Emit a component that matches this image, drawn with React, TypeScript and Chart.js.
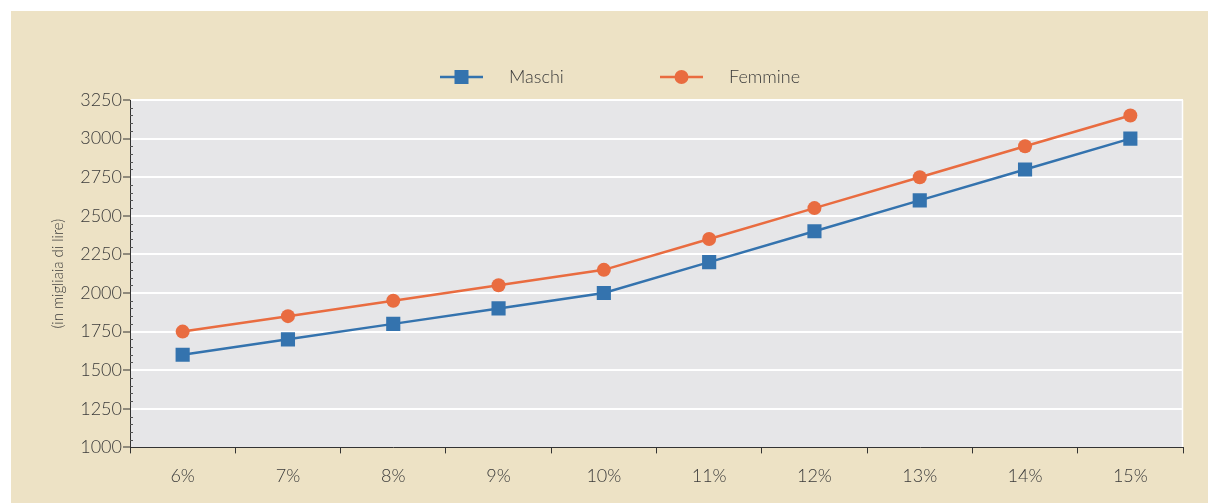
import React, { useEffect, useRef } from "react";
import { Chart, registerables } from "chart.js";

Chart.register(...registerables);

const categories = ["6%", "7%", "8%", "9%", "10%", "11%", "12%", "13%", "14%", "15%"];
const maschi = [1600, 1700, 1800, 1900, 2000, 2200, 2400, 2600, 2800, 3000];
const femmine = [1750, 1850, 1950, 2050, 2150, 2350, 2550, 2750, 2950, 3150];
const seriesNames = ["Maschi", "Femmine"];
const yTitle = "(in migliaia di lire)";

const BLUE = "#3473ae";
const ORANGE = "#e96c40";
const TEXT = "#3a3a3a";
const FONT = "Lato, 'Open Sans', sans-serif";

export default function App() {
  const ref = useRef<HTMLCanvasElement | null>(null);

  useEffect(() => {
    document.body.style.margin = "0";
    const canvas = ref.current;
    if (!canvas) return;

    const bgPlugin = {
      id: "plotBg",
      beforeDraw(chart: any) {
        const { ctx, chartArea } = chart;
        ctx.save();
        ctx.fillStyle = "#e6e6e8";
        ctx.fillRect(chartArea.left, chartArea.top, chartArea.right - chartArea.left, chartArea.bottom - chartArea.top);
        ctx.strokeStyle = "#ffffff";
        ctx.lineWidth = 1.5;
        ctx.beginPath();
        ctx.moveTo(chartArea.right - 0.5, chartArea.top);
        ctx.lineTo(chartArea.right - 0.5, chartArea.bottom);
        ctx.stroke();
        ctx.restore();
      },
      afterDraw(chart: any) {
        const { ctx, chartArea } = chart;
        const y = chart.scales.y;
        ctx.save();
        ctx.strokeStyle = "#555";
        ctx.lineWidth = 1;
        for (let v = y.min; v <= y.max; v += 50) {
          if (v % 250 === 0) continue;
          const py = Math.round(y.getPixelForValue(v)) + 0.5;
          ctx.beginPath();
          ctx.moveTo(chartArea.left, py);
          ctx.lineTo(chartArea.left + 3, py);
          ctx.stroke();
        }
        const items = [
          { name: seriesNames[0], color: BLUE, style: "rect", x: 429 },
          { name: seriesNames[1], color: ORANGE, style: "circle", x: 649 },
        ];
        const ly = 66;
        items.forEach((it) => {
          ctx.strokeStyle = it.color;
          ctx.fillStyle = it.color;
          ctx.lineWidth = 2.5;
          ctx.beginPath();
          ctx.moveTo(it.x, ly);
          ctx.lineTo(it.x + 43, ly);
          ctx.stroke();
          const cx = it.x + 21.5;
          if (it.style === "rect") {
            ctx.fillRect(cx - 7, ly - 7, 14, 14);
          } else {
            ctx.beginPath();
            ctx.arc(cx, ly, 7, 0, Math.PI * 2);
            ctx.fill();
          }
          ctx.fillStyle = TEXT;
          ctx.font = `300 18px ${FONT}`;
          ctx.textBaseline = "middle";
          ctx.textAlign = "left";
          ctx.fillText(it.name, it.x + 69, ly);
        });
        ctx.restore();
      },
    };

    const chart = new Chart(canvas, {
      type: "line",
      data: {
        labels: categories,
        datasets: [
          {
            label: seriesNames[0],
            data: maschi,
            borderColor: BLUE,
            backgroundColor: BLUE,
            borderWidth: 2.5,
            pointStyle: "rect",
            pointRadius: 10,
            pointBorderWidth: 0,
            tension: 0,
          },
          {
            label: seriesNames[1],
            data: femmine,
            borderColor: ORANGE,
            backgroundColor: ORANGE,
            borderWidth: 2.5,
            pointStyle: "circle",
            pointRadius: 7,
            pointBorderWidth: 0,
            tension: 0,
          },
        ],
      },
      options: {
        animation: false,
        responsive: false,
        devicePixelRatio: 1,
        layout: { padding: { top: 89, right: 25, left: 0, bottom: 4 } },
        plugins: { legend: { display: false }, tooltip: { enabled: false } },
        scales: {
          x: {
            type: "category",
            offset: true,
            grid: {
              display: true,
              offset: true,
              drawOnChartArea: false,
              drawTicks: true,
              tickLength: 6,
              color: "#333",
            },
            border: { display: true, color: "#333", width: 1 },
            ticks: {
              color: TEXT,
              font: { family: FONT, size: 18, weight: "300" as any },
              padding: 12,
            },
          },
          y: {
            min: 1000,
            max: 3250,
            afterFit(scale: any) {
              scale.width = 119;
            },
            ticks: {
              stepSize: 50,
              autoSkip: false,
              color: TEXT,
              padding: 1,
              font: { family: FONT, size: 18, weight: "300" as any },
              callback: (v: any) => (Number(v) % 250 === 0 ? String(v) : ""),
            },
            grid: {
              color: (c: any) => (c.tick && c.tick.value % 250 === 0 && c.tick.value !== 1000 ? "#ffffff" : "rgba(0,0,0,0)"),
              lineWidth: 2,
              tickColor: (c: any) => (c.tick && c.tick.value % 250 === 0 ? "#333" : "rgba(0,0,0,0)"),
              tickLength: 7,
              tickWidth: 1,
            },
            border: { display: true, color: "#333", width: 1 },
            title: {
              display: true,
              text: yTitle,
              color: TEXT,
              font: { family: FONT, size: 15, weight: "300" as any },
              padding: { top: 38, bottom: 0 },
            },
          },
        },
      },
      plugins: [bgPlugin],
    });

    return () => chart.destroy();
  }, []);

  return (
    <div style={{ position: "relative", width: 1208, height: 503, background: "#ffffff" }}>
      <div style={{ position: "absolute", left: 11, top: 11, width: 1197, height: 492, background: "#ede2c5" }}>
        <canvas ref={ref} width={1197} height={492} style={{ display: "block", width: 1197, height: 492 }} />
      </div>
    </div>
  );
}
